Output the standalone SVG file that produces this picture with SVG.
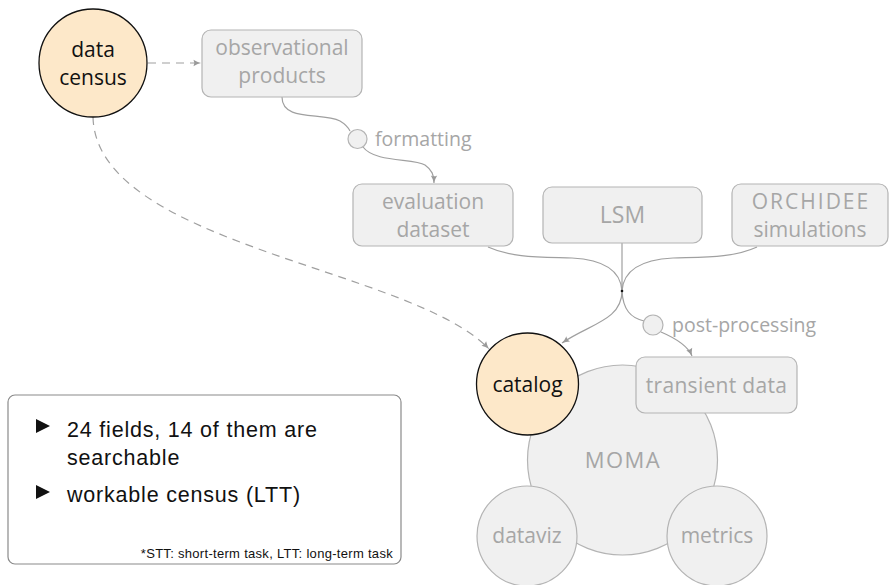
<svg xmlns="http://www.w3.org/2000/svg" width="890" height="585" viewBox="0 0 890 585">
  <defs>
    <marker id="arrow" markerWidth="10" markerHeight="10" refX="8" refY="4" orient="auto" markerUnits="userSpaceOnUse">
      <path d="M0.5,0.8 Q4,3 8,4 Q4,5 0.5,7.2 Q2.2,4 0.5,0.8 z" fill="#9a9a9a"/>
    </marker>
    <style>
      .box { fill: #f0f0f0; stroke: #b4b4b4; stroke-width: 1.2; }
      .hl { fill: #fde8c9; stroke: #111; stroke-width: 1.3; }
      .t { font-family: "Open Sans", "Noto Sans", sans-serif; font-size: 21px; fill: #a6a6a6; text-anchor: middle; }
      .tb { font-family: "Open Sans", "Noto Sans", sans-serif; font-size: 21px; fill: #111; text-anchor: middle; }
      .lbl { font-family: "Open Sans", "Noto Sans", sans-serif; font-size: 19.5px; fill: #a6a6a6; }
      .edge { fill: none; stroke: #a0a0a0; stroke-width: 1.2; }
      .dash { stroke-dasharray: 8 6; }
      .leg { font-family: "Liberation Sans", Arial, sans-serif; fill: #111; font-size: 21.5px; letter-spacing: 0.8px; }
      .note { font-family: "Liberation Sans", Arial, sans-serif; fill: #111; font-size: 13px; letter-spacing: 0.3px; text-anchor: end; }
    </style>
  </defs>

  <!-- MOMA cluster (drawn first so the satellites sit on top) -->
  <g id="moma">
    <circle class="box" cx="622.5" cy="460" r="95"/>
    <text class="t" x="623" y="468" style="font-size:22px;letter-spacing:1.5px">MOMA</text>
  </g>
  <g id="dataviz">
    <circle class="box" cx="527" cy="536" r="50"/>
    <text class="t" x="527" y="543">dataviz</text>
  </g>
  <g id="metrics">
    <circle class="box" cx="717" cy="536" r="50"/>
    <text class="t" x="717" y="543">metrics</text>
  </g>
  <g id="transient">
    <rect class="box" x="636" y="357" width="161" height="56" rx="9"/>
    <text class="t" x="716.5" y="393" style="letter-spacing:0.3px">transient data</text>
  </g>
  <g id="catalog">
    <circle class="hl" cx="527.5" cy="384" r="51"/>
    <text class="tb" x="527.5" y="392">catalog</text>
  </g>

  <!-- connectors -->
  <g id="connectors">
    <path class="edge dash" d="M148,63 L201,63" marker-end="url(#arrow)"/>
    <path class="edge dash" d="M93,117 C96,245 412,268 489,349" marker-end="url(#arrow)"/>
    <path class="edge" d="M282,97 C282,122 322,112 340,121 C345,124 348,127 350,131"/>
    <path class="edge" d="M363,147 C375,163 414,158 425,165 C432,170 434,175 434,183" marker-end="url(#arrow)"/>
    <path class="edge" d="M488,247 C512,258 540,257 572,258 C610,260 621,275 622,291"/>
    <path class="edge" d="M622,243 L622,291"/>
    <path class="edge" d="M757,247 C733,258 705,257 673,258 C635,260 623,275 622,291"/>
    <path class="edge" d="M622,291 C622,320 590,324 562,343" marker-end="url(#arrow)"/>
    <path class="edge" d="M622,291 C623,310 631,318 644,321"/>
    <path class="edge" d="M661,332 C675,338 688,346 692,356" marker-end="url(#arrow)"/>
    <circle cx="622" cy="291" r="1.3" fill="#111"/>
  </g>

  <g id="formatting">
    <circle class="box" cx="357.5" cy="139" r="9.5"/>
    <text class="lbl" x="375" y="145.5">formatting</text>
  </g>
  <g id="postprocessing">
    <circle class="box" cx="653" cy="325" r="10"/>
    <text class="lbl" x="672" y="331.5">post-processing</text>
  </g>

  <g id="datacensus">
    <circle class="hl" cx="93" cy="63" r="54"/>
    <text class="tb" x="93" y="57">data</text>
    <text class="tb" x="93" y="85">census</text>
  </g>
  <g id="observational">
    <rect class="box" x="202" y="30" width="160" height="67" rx="9"/>
    <text class="t" x="282" y="55">observational</text>
    <text class="t" x="282" y="83">products</text>
  </g>
  <g id="evaluation">
    <rect class="box" x="353" y="184" width="160" height="62" rx="9"/>
    <text class="t" x="433" y="209">evaluation</text>
    <text class="t" x="433" y="237">dataset</text>
  </g>
  <g id="lsm">
    <rect class="box" x="543" y="187" width="159" height="56" rx="9"/>
    <text class="t" x="622.5" y="223" style="font-size:23px">LSM</text>
  </g>
  <g id="orchidee">
    <rect class="box" x="732" y="184" width="156" height="62" rx="9"/>
    <text class="t" x="811" y="209" style="letter-spacing:2px">ORCHIDEE</text>
    <text class="t" x="810" y="237">simulations</text>
  </g>

  <!-- legend panel -->
  <g id="legend">
    <rect x="8" y="395" width="393" height="169" rx="7" fill="#fff" stroke="#8a8a8a" stroke-width="1.2"/>
    <path d="M36,419 L50,426 L36,433 z" fill="#111"/>
    <path d="M36,485 L50,492 L36,499 z" fill="#111"/>
    <text class="leg" x="67" y="437">24 fields, 14 of them are</text>
    <text class="leg" x="67" y="465">searchable</text>
    <text class="leg" x="67" y="502">workable census (LTT)</text>
    <text class="note" x="393" y="558">*STT: short-term task, LTT: long-term task</text>
  </g>
</svg>
